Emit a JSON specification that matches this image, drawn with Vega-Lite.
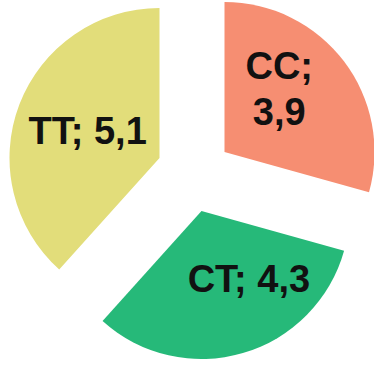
{
  "$schema": "https://vega.github.io/schema/vega-lite/v6.json",
  "autosize": {"type": "fit", "contains": "padding"},
  "width": 374,
  "height": 366,
  "padding": 0,
  "background": "white",
  "view": {"stroke": null},
  "data": {
    "values": [
      {"cat": "CC", "value": 3.9, "order": 1, "label": ["CC;", "3,9"]},
      {"cat": "CT", "value": 4.3, "order": 2, "label": "CT; 4,3"},
      {"cat": "TT", "value": 5.1, "order": 3, "label": "TT; 5,1"}
    ]
  },
  "resolve": {"scale": {"theta": "shared"}},
  "layer": [
    {
      "transform": [
        {"stack": "value", "groupby": [], "sort": [{"field": "order"}], "as": ["v0", "v1"]},
        {"filter": "datum.cat === 'CC'"}
      ],
      "mark": {"type": "arc", "outerRadius": 150, "xOffset": 38, "yOffset": -31},
      "encoding": {
        "theta": {"field": "v0", "type": "quantitative", "scale": {"domain": [0, 13.3]}},
        "theta2": {"field": "v1"},
        "color": {"field": "cat", "type": "nominal", "legend": null,
          "scale": {"domain": ["CC", "CT", "TT"], "range": ["#F68E72", "#26B979", "#E2DD7A"]}}
      }
    },
    {
      "transform": [
        {"stack": "value", "groupby": [], "sort": [{"field": "order"}], "as": ["v0", "v1"]},
        {"filter": "datum.cat === 'CT'"}
      ],
      "mark": {"type": "arc", "outerRadius": 148, "xOffset": 15, "yOffset": 28},
      "encoding": {
        "theta": {"field": "v0", "type": "quantitative", "scale": {"domain": [0, 13.3]}},
        "theta2": {"field": "v1"},
        "color": {"field": "cat", "type": "nominal", "legend": null}
      }
    },
    {
      "transform": [
        {"stack": "value", "groupby": [], "sort": [{"field": "order"}], "as": ["v0", "v1"]},
        {"filter": "datum.cat === 'TT'"}
      ],
      "mark": {"type": "arc", "outerRadius": 150, "xOffset": -27, "yOffset": -25},
      "encoding": {
        "theta": {"field": "v0", "type": "quantitative", "scale": {"domain": [0, 13.3]}},
        "theta2": {"field": "v1"},
        "color": {"field": "cat", "type": "nominal", "legend": null}
      }
    },
    {
      "mark": {"type": "text", "font": "Liberation Sans", "fontWeight": "bold", "fontSize": 38, "color": "#111111", "align": "center", "baseline": "middle", "lineHeight": 46, "xOffset": 29, "yOffset": -67},
      "encoding": {
        "theta": {"field": "value", "type": "quantitative", "stack": true},
        "order": {"field": "order"},
        "radius": {"value": 80},
        "text": {"condition": {"test": "datum.cat === 'CC'", "field": "label"}, "value": ""}
      }
    },
    {
      "mark": {"type": "text", "font": "Liberation Sans", "fontWeight": "bold", "fontSize": 38, "color": "#111111", "align": "center", "baseline": "middle", "xOffset": 40, "yOffset": 21},
      "encoding": {
        "theta": {"field": "value", "type": "quantitative", "stack": true},
        "order": {"field": "order"},
        "radius": {"value": 80},
        "text": {"condition": {"test": "datum.cat === 'CT'", "field": "label"}, "value": ""}
      }
    },
    {
      "mark": {"type": "text", "font": "Liberation Sans", "fontWeight": "bold", "fontSize": 38, "color": "#111111", "align": "center", "baseline": "middle", "xOffset": -26, "yOffset": -22},
      "encoding": {
        "theta": {"field": "value", "type": "quantitative", "stack": true},
        "order": {"field": "order"},
        "radius": {"value": 78},
        "text": {"condition": {"test": "datum.cat === 'TT'", "field": "label"}, "value": ""}
      }
    }
  ]
}
